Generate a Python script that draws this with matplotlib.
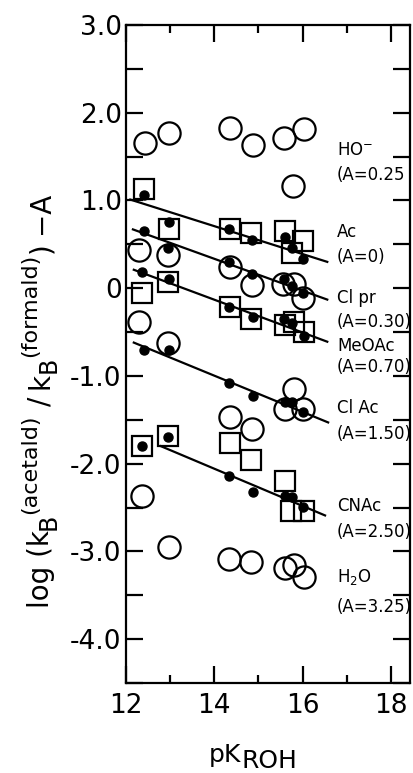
import matplotlib
matplotlib.use("Agg")
import matplotlib.pyplot as plt
from matplotlib.ticker import MultipleLocator, FixedLocator, FixedFormatter

plt.rcParams['font.family'] = ['DejaVu Sans']
plt.rcParams['mathtext.fontset'] = 'dejavusans'

# ---------------- data ----------------
ho_x = [12.43, 12.97, 14.35, 14.87, 15.59, 15.79, 16.04]
ho_y = [1.66, 1.77, 1.83, 1.63, 1.71, 1.16, 1.82]

ac_sq_x = [12.40, 12.97, 14.35, 14.83, 15.60, 15.77, 16.02]
ac_sq_y = [1.13, 0.68, 0.67, 0.63, 0.65, 0.40, 0.54]
ac_dot_x = [12.40, 12.97, 14.33, 14.85, 15.60, 15.77, 16.02]
ac_dot_y = [1.06, 0.75, 0.67, 0.55, 0.58, 0.46, 0.33]

clpr_c_x = [12.30, 12.95, 14.35, 14.85, 15.55, 15.80, 16.02]
clpr_c_y = [0.44, 0.38, 0.24, 0.04, 0.05, 0.05, -0.11]
clpr_dot_x = [12.40, 12.95, 14.33, 14.85, 15.57, 15.77, 16.02]
clpr_dot_y = [0.65, 0.46, 0.30, 0.16, 0.10, 0.03, -0.06]

meoac_sq_x = [12.37, 12.95, 14.35, 14.83, 15.60, 15.80, 16.04]
meoac_sq_y = [-0.05, 0.07, -0.22, -0.35, -0.42, -0.39, -0.50]
meoac_dot_x = [12.37, 12.97, 14.33, 14.88, 15.57, 15.77, 16.04]
meoac_dot_y = [0.19, 0.10, -0.21, -0.33, -0.35, -0.40, -0.54]

clac_c_x = [12.30, 12.95, 14.35, 14.85, 15.60, 15.80, 16.02]
clac_c_y = [-0.38, -0.62, -1.47, -1.61, -1.38, -1.15, -1.38]
clac_dot_x = [12.40, 12.97, 14.33, 14.88, 15.60, 15.77, 16.02]
clac_dot_y = [-0.71, -0.70, -1.08, -1.23, -1.30, -1.30, -1.41]

cnac_sq_x = [12.37, 12.95, 14.35, 14.83, 15.60, 15.75, 16.04]
cnac_sq_y = [-1.80, -1.69, -1.76, -1.96, -2.20, -2.54, -2.54]
cnac_dot_x = [12.37, 12.95, 14.33, 14.88, 15.60, 15.77, 16.02]
cnac_dot_y = [-1.80, -1.70, -2.14, -2.32, -2.37, -2.38, -2.49]

h2o_x = [12.37, 12.97, 14.33, 14.83, 15.60, 15.80, 16.04]
h2o_y = [-2.37, -2.95, -3.09, -3.12, -3.19, -3.16, -3.29]

# fitted lines (Ac, Clpr, MeOAc, ClAc, CNAc)
line_x0 = [12.10, 12.16, 12.18, 12.18, 12.79]
line_x1 = [16.56, 16.56, 16.56, 16.58, 16.51]
line_y0 = [1.01, 0.67, 0.21, -0.62, -1.80]
line_y1 = [0.30, -0.13, -0.61, -1.53, -2.59]

labels = ["HO$^{-}$", "(A=0.25", "Ac", "(A=0)", "Cl pr", "(A=0.30)", "MeOAc", "(A=0.70)",
          "Cl Ac", "(A=1.50)", "CNAc", "(A=2.50)", "H$_2$O", "(A=3.25)"]
label_y = [1.58, 1.29, 0.645, 0.36, -0.11, -0.39, -0.66, -0.90,
           -1.36, -1.66, -2.48, -2.78, -3.29, -3.63]

yticks = [3.0, 2.0, 1.0, 0.0, -1.0, -2.0, -3.0, -4.0]
ytick_labels = ["3.0", "2.0", "1.0", "0", "-1.0", "-2.0", "-3.0", "-4.0"]
xticks = [12, 14, 16, 18]
xtick_labels = ["12", "14", "16", "18"]

# ---------------- figure ----------------
W, H = 414, 773
fig = plt.figure(figsize=(W / 100, H / 100), dpi=100)
ax = fig.add_axes([0.304, 0.1164, 0.686, 0.8513])
ax.set_xlim(12, 18.43)
ax.set_ylim(-4.5, 3.0)

for x0, x1, y0, y1 in zip(line_x0, line_x1, line_y0, line_y1):
    ax.plot([x0, x1], [y0, y1], color='black', lw=1.6, zorder=2)

open_c = dict(marker='o', ms=16, mfc='none', mec='black', mew=1.6, ls='none',
              clip_on=False, zorder=3)
open_s = dict(marker='s', ms=14.5, mfc='none', mec='black', mew=1.6, ls='none',
              clip_on=False, zorder=3)
dot = dict(marker='o', ms=6.5, mfc='black', mec='black', ls='none', zorder=4)

ax.plot(ho_x, ho_y, **open_c)
ax.plot(ac_sq_x, ac_sq_y, **open_s)
ax.plot(ac_dot_x, ac_dot_y, **dot)
ax.plot(clpr_c_x, clpr_c_y, **open_c)
ax.plot(clpr_dot_x, clpr_dot_y, **dot)
ax.plot(meoac_sq_x, meoac_sq_y, **open_s)
ax.plot(meoac_dot_x, meoac_dot_y, **dot)
ax.plot(clac_c_x, clac_c_y, **open_c)
ax.plot(clac_dot_x, clac_dot_y, **dot)
ax.plot(cnac_sq_x, cnac_sq_y, **open_s)
ax.plot(cnac_dot_x, cnac_dot_y, **dot)
ax.plot(h2o_x, h2o_y, **open_c)

for t, yv in zip(labels, label_y):
    ax.text(16.78, yv, t, fontsize=12, ha='left', va='center')

# axes styling
for sp in ax.spines.values():
    sp.set_linewidth(1.6)
ax.xaxis.set_major_locator(FixedLocator(xticks))
ax.xaxis.set_major_formatter(FixedFormatter(xtick_labels))
ax.xaxis.set_minor_locator(MultipleLocator(1))
ax.yaxis.set_major_locator(FixedLocator(yticks))
ax.yaxis.set_major_formatter(FixedFormatter(ytick_labels))
ax.yaxis.set_minor_locator(MultipleLocator(0.5))
ax.tick_params(which='both', direction='in', top=True, right=True, width=1.6)
ax.tick_params(axis='x', which='major', length=12, labelsize=19, pad=7)
ax.tick_params(axis='x', which='minor', length=6)
ax.tick_params(axis='y', which='major', length=12, labelsize=19, pad=3)
ax.tick_params(axis='y', which='minor', length=12)

# x axis label: pK with large subscript ROH
fig.text(209 / W, 1 - 762 / H, "pK", fontsize=18, ha='left', va='baseline')
fig.text(242 / W, 1 - 768 / H, "ROH", fontsize=18, ha='left', va='baseline')

# y axis label built from pieces (rotated, reading bottom to top)
renderer = fig.canvas.get_renderer()
base_x = 49  # px, baseline of main text
pieces = [("log (k", 20, 0), ("B", 17, 7), ("(acetald)", 16, -13), (None, 8, 0),
          ("/", 20, 0), (None, 8, 0), ("k", 20, 0), ("B", 17, 7),
          ("(formald)", 16, -13), (")", 20, 0), (None, 8, 0), ("\u2212A", 20, 0)]
texts = []
pos = 0.0
for s, fs, shift in pieces:
    if s is None:
        pos += fs
        continue
    t = fig.text((base_x + shift) / W, 0.5, s, rotation=90, rotation_mode='anchor',
                 ha='left', va='baseline', fontsize=fs)
    bb = t.get_window_extent(renderer)
    texts.append((t, shift, pos))
    pos += bb.height
total = pos
center_y = 400  # px from top
start = (H - center_y) - total / 2.0  # px from bottom
for t, shift, p in texts:
    t.set_position(((base_x + shift) / W, (start + p) / H))

fig.savefig("out.png", dpi=100)
